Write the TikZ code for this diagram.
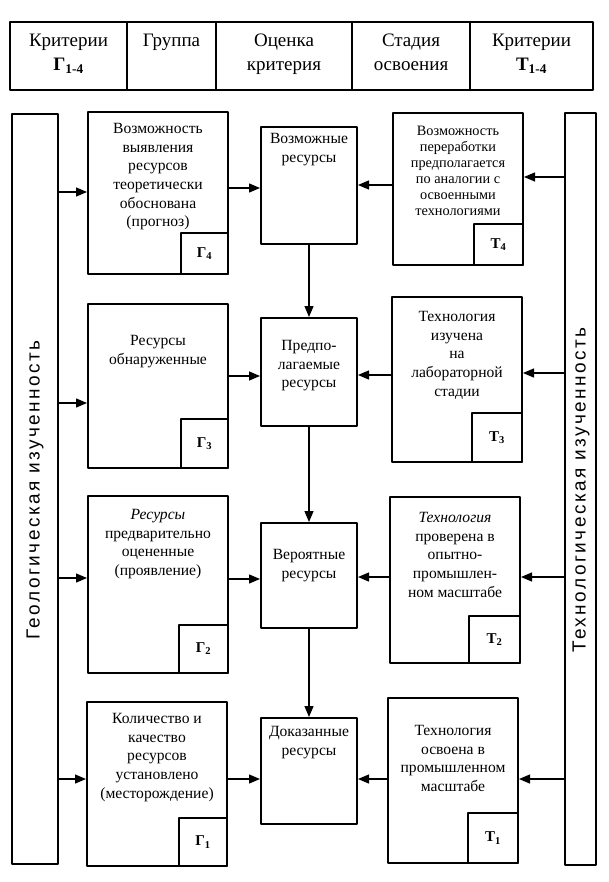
\documentclass[tikz,border=0pt]{standalone}
\usepackage{fontspec}
\setmainfont{Liberation Serif}
\newfontfamily\barfont[LetterSpace=13]{Liberation Sans}
\usetikzlibrary{arrows.meta}
\begin{document}
\begin{tikzpicture}[x=1pt, y=-1pt, line join=round, >={Triangle[length=11pt,width=9pt]},
	box/.style={draw, line width=2.6pt, inner sep=0pt, outer sep=0pt, anchor=north west},
	head/.style={box, minimum height=68pt, align=center, font=\fontsize{19}{24}\selectfont,
		execute at begin node=\strut, execute at end node=\strut},
	tag/.style={draw, line width=1.6pt, inner sep=0pt, outer sep=0pt, anchor=south east, font=\bfseries\fontsize{15}{15}\selectfont},
	txt/.style={anchor=north, inner sep=0pt, align=center, font=\fontsize{15.6}{18.7}\selectfont},
	side/.style={rotate=90, inner sep=0pt, font=\barfont\fontsize{19}{19}\selectfont},
	arr/.style={->, line width=1.3pt, shorten >=1pt}]
	\useasboundingbox (0,0) rectangle (609,882);
	% header
	\node[head, minimum width=117pt] (hcrg) at (10,22) {Критерии\\\textbf{Г\textsubscript{1-4}}};
	\node[head, minimum width=89pt] (hgroup) at (hcrg.north east) {Группа\\};
	\node[head, minimum width=136pt] (hmark) at (hgroup.north east) {Оценка\\критерия};
	\node[head, minimum width=118pt] (hstage) at (hmark.north east) {Стадия\\освоения};
	\node[head, minimum width=123pt] (hcrt) at (hstage.north east) {Критерии\\\textbf{Т\textsubscript{1-4}}};
	% side bars
	\node[box, minimum width=46pt, minimum height=750pt] (lbar) at (12,114) {};
	\node[box, minimum width=31pt, minimum height=752pt] (rbar) at (565,113) {};
	\node[side] (geotitle) at (35,490) {Геологическая изученность};
	\node[side] (techtitle) at (581,490) {Технологическая изученность};
	% geology
	\node[box, minimum width=140pt, minimum height=162pt] (geo4) at (88,112) {};
	\node[box, minimum width=140pt, minimum height=164pt] (geo3) at (88,304) {};
	\node[box, minimum width=140pt, minimum height=177pt] (geo2) at (88,496) {};
	\node[box, minimum width=140pt, minimum height=164pt] (geo1) at (87,702) {};
	\node[txt] (geo4txt) at ([yshift=-11pt]geo4.north) {Возможность\\выявления\\ресурсов\\теоретически\\обоснована\\(прогноз)};
	\node[txt] (geo3txt) at ([yshift=-31pt]geo3.north) {Ресурсы\\обнаруженные};
	\node[txt] (geo2txt) at ([yshift=-13pt]geo2.north) {\textit{Ресурсы}\\предварительно\\оцененные\\(проявление)};
	\node[txt] (geo1txt) at ([yshift=-11pt]geo1.north) {Количество и\\качество\\ресурсов\\установлено\\(месторождение)};
	\node[tag, minimum width=47pt, minimum height=41pt] (geo4tag) at (geo4.south east) {Г\textsubscript{4}};
	\node[tag, minimum width=47pt, minimum height=49pt] (geo3tag) at (geo3.south east) {Г\textsubscript{3}};
	\node[tag, minimum width=49pt, minimum height=48pt] (geo2tag) at (geo2.south east) {Г\textsubscript{2}};
	\node[tag, minimum width=48pt, minimum height=48pt] (geo1tag) at (geo1.south east) {Г\textsubscript{1}};
	% resources
	\node[box, minimum width=96pt, minimum height=117pt] (res4) at (261,127) {};
	\node[box, minimum width=96pt, minimum height=108pt] (res3) at (261,318) {};
	\node[box, minimum width=96pt, minimum height=105pt] (res2) at (261,523) {};
	\node[box, minimum width=96pt, minimum height=106pt] (res1) at (261,718) {};
	\node[txt] (res4txt) at ([yshift=-6pt]res4.north) {Возможные\\ресурсы};
	\node[txt] (res3txt) at ([yshift=-22pt]res3.north) {Предпо-\\лагаемые\\ресурсы};
	\node[txt] (res2txt) at ([yshift=-26pt]res2.north) {Вероятные\\ресурсы};
	\node[txt] (res1txt) at ([yshift=-8pt]res1.north) {Доказанные\\ресурсы};
	% technology
	\node[box, minimum width=130pt, minimum height=152pt] (tech4) at (393,113) {};
	\node[box, minimum width=130pt, minimum height=165pt] (tech3) at (392,297) {};
	\node[box, minimum width=130pt, minimum height=166pt] (tech2) at (390,497) {};
	\node[box, minimum width=130pt, minimum height=165pt] (tech1) at (388,698) {};
	\node[txt, font=\fontsize{14.3}{16}\selectfont] (tech4txt) at ([yshift=-13pt]tech4.north) {Возможность\\переработки\\предполагается\\по аналогии с\\освоенными\\технологиями};
	\node[txt] (tech3txt) at ([yshift=-14pt]tech3.north) {Технология\\изучена\\на\\лабораторной\\стадии};
	\node[txt] (tech2txt) at ([yshift=-15pt]tech2.north) {\textit{Технология}\\проверена в\\опытно-\\промышлен-\\ном масштабе};
	\node[txt] (tech1txt) at ([yshift=-27pt]tech1.north) {Технология\\освоена в\\промышленном\\масштабе};
	\node[tag, minimum width=49pt, minimum height=41pt] (tech4tag) at (tech4.south east) {Т\textsubscript{4}};
	\node[tag, minimum width=50pt, minimum height=49pt] (tech3tag) at (tech3.south east) {Т\textsubscript{3}};
	\node[tag, minimum width=51pt, minimum height=47pt] (tech2tag) at (tech2.south east) {Т\textsubscript{2}};
	\node[tag, minimum width=50pt, minimum height=50pt] (tech1tag) at (tech1.south east) {Т\textsubscript{1}};
	% arrows
	\foreach \n/\a/\b/\c/\d in {4/192/188/185/177, 3/403/376/375/373, 2/578/579/577/577, 1/779/779/779/779}{
		\draw[arr] (lbar.east |- 0,\a) -- (geo\n.west |- 0,\a);
		\draw[arr] (geo\n.east |- 0,\b) -- (res\n.west |- 0,\b);
		\draw[arr] (tech\n.west |- 0,\c) -- (res\n.east |- 0,\c);
		\draw[arr] (rbar.west |- 0,\d) -- (tech\n.east |- 0,\d);
	}
	\draw[arr] (res4.south) -- (res3.north);
	\draw[arr] (res3.south) -- (res2.north);
	\draw[arr] (res2.south) -- (res1.north);
\end{tikzpicture}
\end{document}
